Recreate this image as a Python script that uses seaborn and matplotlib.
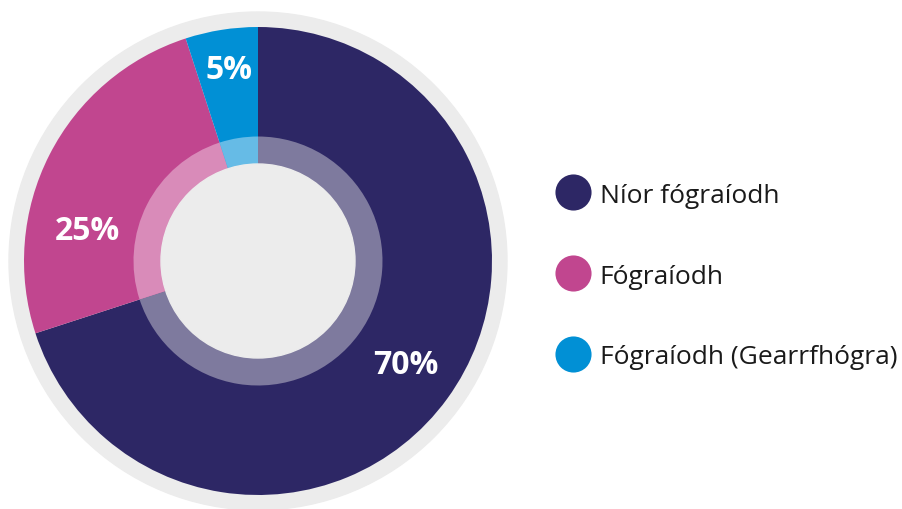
import matplotlib
matplotlib.use("Agg")
import matplotlib.pyplot as plt
import seaborn as sns
import numpy as np
from matplotlib.lines import Line2D
from matplotlib.patches import Circle

# ---- data ----
categories = ["Níor fógraíodh", "Fógraíodh", "Fógraíodh (Gearrfhógra)"]
values = [70, 25, 5]
value_labels = ["70%", "25%", "5%"]

# ---- style ----
colors = ["#2d2765", "#c1468f", "#0190d5"]
inner_colors = ["#7e7a9e", "#d98bb9", "#66bbe6"]
ring_gray = "#ececec"

sns.set_theme(style="white")
plt.rcParams["font.family"] = ["Open Sans", "DejaVu Sans"]

W, H = 903, 510
fig = plt.figure(figsize=(W / 100, H / 100), dpi=100)
ax = fig.add_axes([0, 0, 1, 1])
ax.set_xlim(0, W)
ax.set_ylim(0, H)
ax.set_aspect("equal")
ax.axis("off")

cx, cy = 258, H - 262
ax.add_patch(Circle((cx, cy), 249, color=ring_gray, zorder=0))

wedges, _, autotexts = ax.pie(
    values, colors=colors, startangle=90, counterclock=False,
    radius=234, center=(cx, cy), autopct="%d%%", frame=True,
    wedgeprops=dict(linewidth=0), textprops=dict(color="white"),
)
ax.pie(values, colors=inner_colors, startangle=90, counterclock=False,
       radius=124.5, center=(cx, cy), frame=True, wedgeprops=dict(linewidth=0))
ax.add_patch(Circle((cx, cy), 97, color=ring_gray, zorder=5))

# label placement (angle in degrees, distance in px)
label_layout = [(-35, 180), (169.7, 173), (98.6, 194)]
for t, lab, (ang, dist) in zip(autotexts, value_labels, label_layout):
    a = np.deg2rad(ang)
    t.set_text(lab)
    t.set_position((cx + dist * np.cos(a), cy + dist * np.sin(a)))
    t.set_fontsize(23)
    t.set_fontweight("bold")
    t.set_ha("center")
    t.set_va("center")
    t.set_zorder(10)

ax.set_xlim(0, W)
ax.set_ylim(0, H)
ax.axis("off")

handles = [Line2D([], [], marker="o", ls="", markersize=26, color=c, markeredgewidth=0)
           for c in colors]
leg = ax.legend(handles, categories, loc="center left",
                bbox_to_anchor=(556 / W, (H - 277) / H), bbox_transform=fig.transFigure,
                frameon=False, fontsize=19, handlelength=1.3, handletextpad=0.36,
                labelspacing=2.12, borderpad=0, borderaxespad=0)
for t in leg.get_texts():
    t.set_color("#1a1a1a")

fig.savefig("out.png", dpi=100, facecolor="white")
